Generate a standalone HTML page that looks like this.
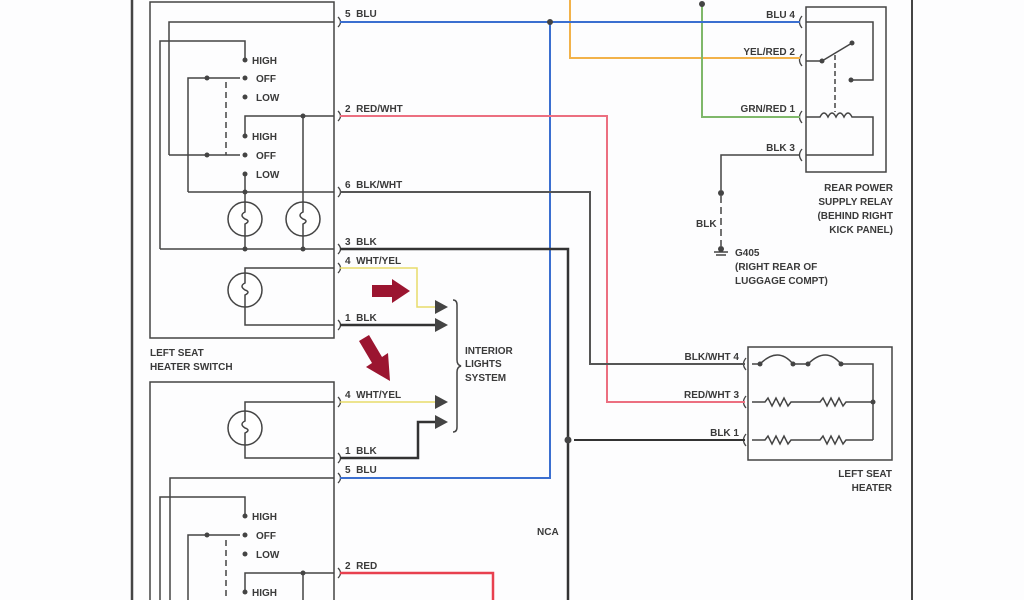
<!DOCTYPE html>
<html><head><meta charset="utf-8"><style>
html,body{margin:0;padding:0;background:#fff;}
svg{display:block;}
text{font-family:"Liberation Sans",sans-serif;font-size:10px;fill:#3a3a3a;font-weight:bold;}
</style></head><body>
<svg width="1024" height="600" viewBox="0 0 1024 600" xmlns="http://www.w3.org/2000/svg">
<rect width="1024" height="600" fill="#fdfdfe"/>
<g stroke="#444" fill="none" stroke-width="1.5">
<line x1="132" y1="0" x2="132" y2="600" stroke-width="2.5"/>
<line x1="912" y1="0" x2="912" y2="600" stroke-width="2"/>
<rect x="150" y="2" width="184" height="336"/>
<polyline points="169,155 169,22 334,22"/>
<polyline points="160,249 160,41 245,41 245,60"/>
<polyline points="188,192 188,78 240,78"/>
<polyline points="169,155 240,155"/>
<line x1="226" y1="82" x2="226" y2="155" stroke-dasharray="6,4"/>
<polyline points="245,136 245,116 334,116"/>
<line x1="303" y1="116" x2="303" y2="249"/>
<line x1="245" y1="174" x2="245" y2="249"/>
<line x1="188" y1="192" x2="334" y2="192"/>
<line x1="160" y1="249" x2="334" y2="249"/>
<circle cx="245" cy="219" r="17" fill="#fff"/>
<circle cx="303" cy="219" r="17" fill="#fff"/>
<path d="M245,202 v10 q-6,3 0,7 q6,2 0,5 v12"/>
<path d="M303,202 v10 q-6,3 0,7 q6,2 0,5 v12"/>
<polyline points="334,268 245,268 245,325 334,325"/>
<circle cx="245" cy="290" r="17" fill="#fff"/>
<path d="M245,273 v10 q-6,3 0,7 q6,2 0,5 v12"/>
<polyline points="150,600 150,382 334,382 334,600"/>
<polyline points="334,402 245,402 245,458 334,458"/>
<circle cx="245" cy="428" r="17" fill="#fff"/>
<path d="M245,411 v10 q-6,3 0,7 q6,2 0,5 v12"/>
<polyline points="170,600 170,478 334,478"/>
<polyline points="160,600 160,497 245,497 245,516"/>
<polyline points="188,600 188,535 240,535"/>
<line x1="226" y1="540" x2="226" y2="600" stroke-dasharray="6,4"/>
<polyline points="245,592 245,573 334,573"/>
<line x1="303" y1="573" x2="303" y2="600"/>
<rect x="806" y="7" width="80" height="165"/>
<polyline points="806,22 873,22 873,80 851,80"/>
<line x1="822" y1="61" x2="852" y2="43"/>
<line x1="806" y1="61" x2="822" y2="61"/>
<line x1="835" y1="55" x2="835" y2="112" stroke-dasharray="5,3"/>
<path d="M806,117 H820 q4,-8 8,0 q4,-8 8,0 q4,-8 8,0 q4,-8 8,0 H873 V155 H806"/>
<polyline points="800,155 721,155 721,190"/>
<line x1="721" y1="196" x2="721" y2="246" stroke-dasharray="7,4"/>
<line x1="714" y1="252" x2="728" y2="252"/><line x1="716" y1="255" x2="726" y2="255"/>
<rect x="748" y="347" width="144" height="113"/>
<path d="M752,364 H760 q18,-18 33,0 H808 q18,-18 33,0 H873 V440"/>
<path d="M752,402 H765 l3,-4 4,8 4,-8 4,8 4,-8 4,8 3,-4 H820 l3,-4 4,8 4,-8 4,8 4,-8 4,8 3,-4 H873"/>
<path d="M752,440 H765 l3,-4 4,8 4,-8 4,8 4,-8 4,8 3,-4 H820 l3,-4 4,8 4,-8 4,8 4,-8 4,8 3,-4 H873"/>
<g stroke-width="1.3">
<path d="M338,17 q5,5 0,10"/><path d="M338,111 q5,5 0,10"/><path d="M338,187 q5,5 0,10"/><path d="M338,244 q5,5 0,10"/><path d="M338,263 q5,5 0,10"/><path d="M338,320 q5,5 0,10"/>
<path d="M338,397 q5,5 0,10"/><path d="M338,453 q5,5 0,10"/><path d="M338,473 q5,5 0,10"/><path d="M338,568 q5,5 0,10"/>
<path d="M802,16 q-5,6 0,12"/><path d="M802,54 q-5,6 0,12"/><path d="M802,111 q-5,6 0,12"/><path d="M802,149 q-5,6 0,12"/>
<path d="M746,358 q-5,6 0,12"/><path d="M746,396 q-5,6 0,12"/><path d="M746,434 q-5,6 0,12"/>
</g>
<path d="M453,300 q4,0 4,5 v55 q0,5 4,6 q-4,1 -4,6 v55 q0,5 -4,5"/>
</g>
<g fill="none" stroke-width="2">
<polyline points="570,0 570,58 800,58" stroke="#f2b24a"/>
<polyline points="702,5 702,117 800,117" stroke="#7fb86a"/>
<line x1="340" y1="22" x2="800" y2="22" stroke="#3b6fd0"/>
<polyline points="550,22 550,478 340,478" stroke="#3b6fd0"/>
<polyline points="340,116 607,116 607,402 745,402" stroke="#ec6f80"/>
<polyline points="340,192 590,192 590,364 745,364" stroke="#555"/>
<polyline points="340,249 568,249 568,600" stroke="#333" stroke-width="2.5"/>
<line x1="574" y1="440" x2="745" y2="440" stroke="#333"/>
<polyline points="340,268 417,268 417,307 438,307" stroke="#e8dc6a" stroke-width="1.5"/>
<line x1="340" y1="325" x2="438" y2="325" stroke="#333" stroke-width="2.5"/>
<line x1="340" y1="402" x2="438" y2="402" stroke="#e8dc6a" stroke-width="1.5"/>
<polyline points="340,458 418,458 418,422 438,422" stroke="#333" stroke-width="2.5"/>
<polyline points="340,573 493,573 493,600" stroke="#e8404f" stroke-width="2.5"/>
</g>
<g fill="#444">
<polygon points="435,300 448,307 435,314"/><polygon points="435,318 448,325 435,332"/>
<polygon points="435,395 448,402 435,409"/><polygon points="435,415 448,422 435,429"/>
<circle cx="550" cy="22" r="3"/><circle cx="702" cy="4" r="3"/><circle cx="568" cy="440" r="3.5"/>
<circle cx="721" cy="193" r="3"/><circle cx="721" cy="249" r="3"/>
<circle cx="245" cy="60" r="2.5"/><circle cx="207" cy="78" r="2.5"/><circle cx="245" cy="78" r="2.5"/><circle cx="245" cy="97" r="2.5"/>
<circle cx="245" cy="136" r="2.5"/><circle cx="207" cy="155" r="2.5"/><circle cx="245" cy="155" r="2.5"/><circle cx="245" cy="174" r="2.5"/>
<circle cx="303" cy="116" r="2.5"/><circle cx="245" cy="192" r="2.5"/><circle cx="245" cy="249" r="2.5"/><circle cx="303" cy="249" r="2.5"/>
<circle cx="245" cy="516" r="2.5"/><circle cx="207" cy="535" r="2.5"/><circle cx="245" cy="535" r="2.5"/><circle cx="245" cy="554" r="2.5"/>
<circle cx="303" cy="573" r="2.5"/><circle cx="245" cy="592" r="2.5"/>
<circle cx="822" cy="61" r="2.5"/><circle cx="852" cy="43" r="2.5"/><circle cx="851" cy="80" r="2.5"/>
<circle cx="760" cy="364" r="2.5"/><circle cx="793" cy="364" r="2.5"/><circle cx="808" cy="364" r="2.5"/><circle cx="841" cy="364" r="2.5"/><circle cx="873" cy="402" r="2.5"/>
</g>
<g fill="#9b1530">
<polygon points="372,285 392,285 392,279 410,291 392,303 392,297 372,297"/>
<polygon points="359,341 369,335 382,357 388,353 390,381 366,367 372,363"/>
</g>
<text x="252" y="64">HIGH</text><text x="256" y="82">OFF</text><text x="256" y="101">LOW</text>
<text x="252" y="140">HIGH</text><text x="256" y="159">OFF</text><text x="256" y="178">LOW</text>
<text x="252" y="520">HIGH</text><text x="256" y="539">OFF</text><text x="256" y="558">LOW</text>
<text x="252" y="596">HIGH</text>
<text x="345" y="17">5 &#160;BLU</text><text x="345" y="112">2 &#160;RED/WHT</text><text x="345" y="188">6 &#160;BLK/WHT</text>
<text x="345" y="245">3 &#160;BLK</text><text x="345" y="264">4 &#160;WHT/YEL</text><text x="345" y="321">1 &#160;BLK</text>
<text x="345" y="398">4 &#160;WHT/YEL</text><text x="345" y="454">1 &#160;BLK</text><text x="345" y="473">5 &#160;BLU</text><text x="345" y="569">2 &#160;RED</text>
<text x="150" y="356">LEFT SEAT</text><text x="150" y="370">HEATER SWITCH</text>
<text x="465" y="354">INTERIOR</text><text x="465" y="367">LIGHTS</text><text x="465" y="381">SYSTEM</text>
<text x="537" y="535">NCA</text>
<text x="795" y="18" text-anchor="end">BLU 4</text><text x="795" y="55" text-anchor="end">YEL/RED 2</text>
<text x="795" y="112" text-anchor="end">GRN/RED 1</text><text x="795" y="151" text-anchor="end">BLK 3</text>
<text x="893" y="191" text-anchor="end">REAR POWER</text><text x="893" y="205" text-anchor="end">SUPPLY RELAY</text>
<text x="893" y="219" text-anchor="end">(BEHIND RIGHT</text><text x="893" y="233" text-anchor="end">KICK PANEL)</text>
<text x="696" y="227">BLK</text>
<text x="735" y="256">G405</text><text x="735" y="270">(RIGHT REAR OF</text><text x="735" y="284">LUGGAGE COMPT)</text>
<text x="739" y="360" text-anchor="end">BLK/WHT 4</text><text x="739" y="398" text-anchor="end">RED/WHT 3</text><text x="739" y="436" text-anchor="end">BLK 1</text>
<text x="892" y="477" text-anchor="end">LEFT SEAT</text><text x="892" y="491" text-anchor="end">HEATER</text>
</svg>
</body></html>
